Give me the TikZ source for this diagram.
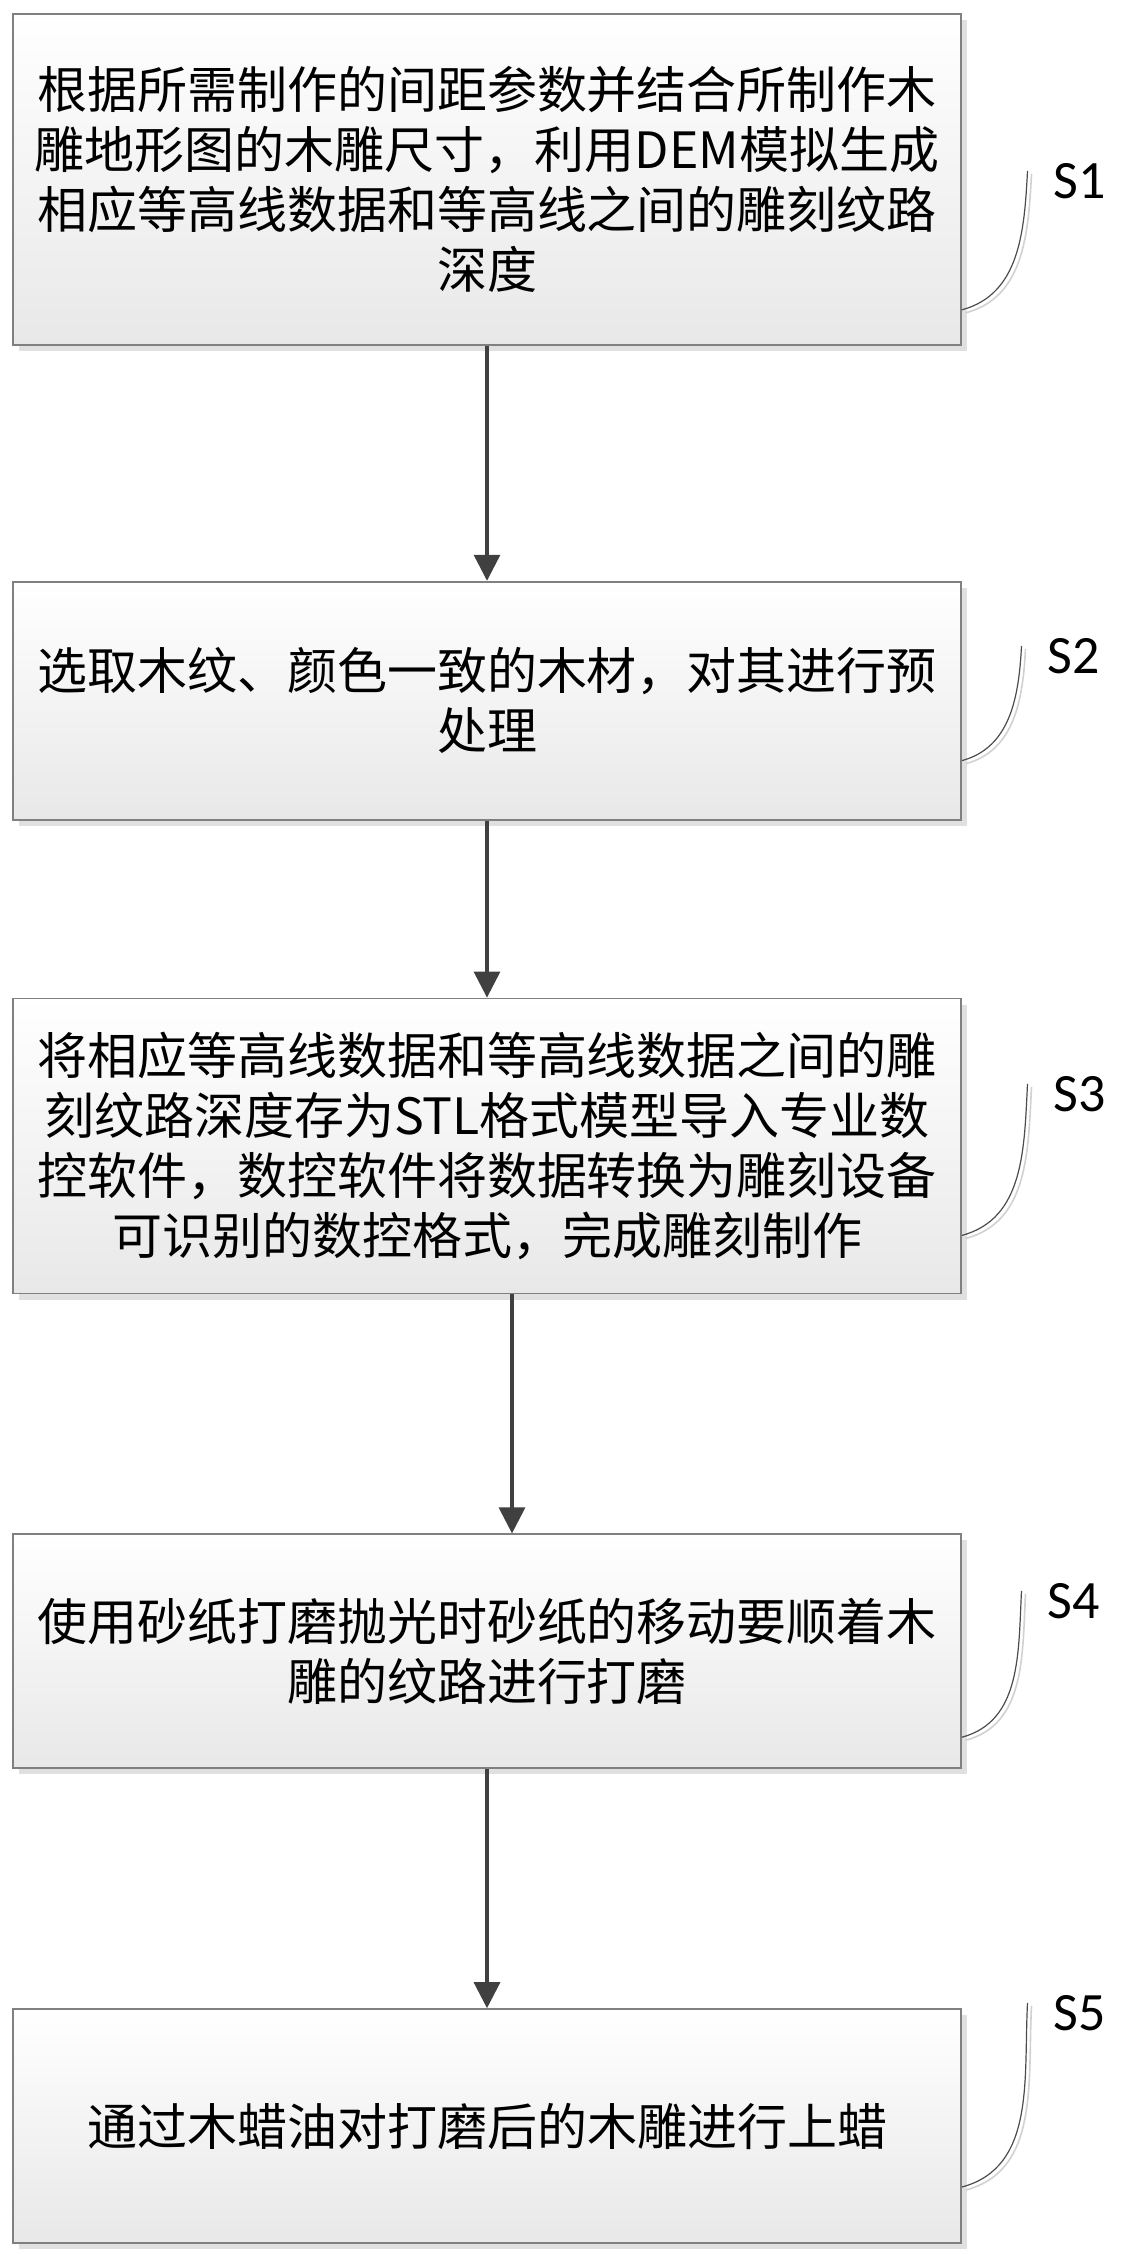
\documentclass[tikz,border=0pt]{standalone}
\usepackage{fontspec}
\newfontfamily\cjkfont{Noto Sans CJK SC}
\newfontfamily\tagfont{Carlito}
\definecolor{boxline}{RGB}{128,128,128}
\definecolor{arrowc}{RGB}{64,64,64}
\usetikzlibrary{arrows.meta, positioning, shadows}

\begin{document}
\begin{tikzpicture}[x=0.5pt, y=-0.5pt,
			stepbox/.style={draw=boxline, line width=0.9pt, top color=white, bottom color=black!9,
				general shadow={fill=black!12, shadow xshift=3pt, shadow yshift=-3pt},
				minimum width=474pt, inner sep=0pt, align=center,
				font=\cjkfont\fontsize{25}{30}\selectfont},
			tag/.style={font=\tagfont\fontsize{27}{30}\selectfont, inner sep=0pt},
			flow/.style={draw=arrowc, line width=1.6pt, -{Triangle[length=13pt, width=13pt]}},
			leader/.style={draw=black!70, line width=0.6pt},
			leadershade/.style={draw=black!18, line width=0.8pt, transform canvas={xshift=2pt, yshift=-1.5pt}},
			node distance=119.5pt,
			]
			\useasboundingbox (0,0) rectangle (1121,2254);
			\node[stepbox, minimum height=165.5pt, anchor=north] (s1) at (487,13)
				{根据所需制作的间距参数并结合所制作木\\雕地形图的木雕尺寸，利用DEM模拟生成\\相应等高线数据和等高线之间的雕刻纹路\\深度};
			\node[stepbox, minimum height=119pt, below=117.5pt of s1] (s2)
				{选取木纹、颜色一致的木材，对其进行预\\处理};
			\node[stepbox, minimum height=147.5pt, below=88.5pt of s2] (s3)
				{将相应等高线数据和等高线数据之间的雕\\刻纹路深度存为STL格式模型导入专业数\\控软件，数控软件将数据转换为雕刻设备\\可识别的数控格式，完成雕刻制作};
			\node[stepbox, minimum height=117pt, below=of s3] (s4)
				{使用砂纸打磨抛光时砂纸的移动要顺着木\\雕的纹路进行打磨};
			\node[stepbox, minimum height=117pt, below=of s4] (s5)
				{通过木蜡油对打磨后的木雕进行上蜡};
			% step labels
			\node[tag] (t1) at (1080,181) {S1};
			\node[tag] (t2) at (1074,656) {S2};
			\node[tag] (t3) at (1080,1094) {S3};
			\node[tag] (t4) at (1074,1601) {S4};
			\node[tag] (t5) at (1080,2013) {S5};
			\foreach \i/\dy in {1/18, 2/30, 3/29.5, 4/16, 5/28.5} {
				\draw[leadershade] ([yshift=\dy pt]s\i.south east) to[out=15, in=-93] ([xshift=-13pt, yshift=-4pt]t\i.north west);
				\draw[leader] ([yshift=\dy pt]s\i.south east) to[out=15, in=-93] ([xshift=-13pt, yshift=-4pt]t\i.north west);
			}
			% arrows
			\foreach \a/\b in {s1/s2, s2/s3, s4/s5}
			\draw[flow] (\a) -- (\b);
			\draw[flow] ([xshift=12.5pt]s3.south) -- ([xshift=12.5pt]s4.north);
	\end{tikzpicture}
\end{document}
